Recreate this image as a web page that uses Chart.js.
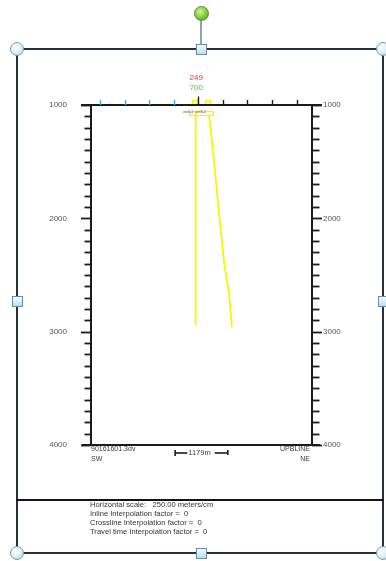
<!DOCTYPE html>
<html>
<head>
<meta charset="utf-8">
<script src="https://cdn.jsdelivr.net/npm/chart.js@4.4.1/dist/chart.umd.min.js"></script>
<style>
  html, body { margin: 0; padding: 0; background: #fff; }
  #wrap { position: relative; width: 386px; height: 561px; overflow: hidden; font-family: "Liberation Sans", Arial, sans-serif; }
  #section { position: absolute; left: 0; top: 0; }
  .frame { position: absolute; left: 16px; top: 48px; width: 368px; height: 506px; border: 2px solid #26313c; box-sizing: border-box; }
  .rule { position: absolute; left: 16px; top: 499px; width: 368px; height: 2px; background: #141414; }
  .info { position: absolute; left: 90px; top: 500px; font-size: 7.6px; line-height: 9px; color: #333; white-space: pre; }
  .stem { position: absolute; left: 200px; top: 19px; width: 2px; height: 26px; background: #8ea3b8; }
  .knob { position: absolute; width: 12px; height: 12px; border-radius: 50%; border: 1px solid #8397ab;
          background: radial-gradient(circle at 38% 32%, #ffffff 0%, #dcedf4 55%, #a9c9da 100%); }
  .sq { position: absolute; width: 9px; height: 9px; border: 1px solid #6f8aa5;
        background: linear-gradient(#f6fcff, #b7ddef); }
  .rot { position: absolute; left: 194px; top: 6px; width: 13px; height: 13px; border-radius: 50%; border: 1px solid #5d8d3b;
         background: radial-gradient(circle at 40% 35%, #d2f59a 0%, #79c93a 55%, #4f9a1f 100%); }
</style>
</head>
<body>
<div id="wrap">
  <canvas id="section" width="386" height="561"></canvas>
  <div class="frame"></div>
  <div class="rule"></div>
  <div class="info" id="info"></div>
  <div class="stem"></div>
  <div class="rot"></div>
  <div class="knob" style="left:10px;top:42px"></div>
  <div class="knob" style="left:376px;top:42px"></div>
  <div class="knob" style="left:10px;top:546px"></div>
  <div class="knob" style="left:376px;top:546px"></div>
  <div class="sq" style="left:196px;top:44px"></div>
  <div class="sq" style="left:196px;top:548px"></div>
  <div class="sq" style="left:12px;top:296px"></div>
  <div class="sq" style="left:378px;top:296px"></div>
</div>
<script>
// Depth axis (m), shared by both vertical axes
const depthRange = [1000, 4000];
const depthLabelStep = 1000;
const depthMinorStep = 100;

// Horizontal offset along the section line (m) of the top tick marks
const traceTicks = [-2200, -1650, -1100, -550, 0, 550, 1100, 1650, 2200];
const sectionRange = [-2400, 2545];

// Well 1: vertical hole
const wellAOffset = [-58, -58];
const wellADepth = [1060, 2945];

// Well 2: deviated hole
const wellBOffset = [239, 351, 463, 582, 687, 754];
const wellBDepth = [1088, 1486, 1955, 2400, 2662, 2960];

// Well heads (square markers above the section)
const wellheadOffset = [-74, 217];
const wellheadDepth = [980, 980];

// Annotation texts
const lineLabels = ['249', '700'];
const wellTags = 'well-1  well-2';
const leftFooter = ['90161601.3dv', 'SW'];
const rightFooter = ['UPBLINE', 'NE'];
const scaleBarMeters = 1179;
const infoLines = [
  'Horizontal scale:   250.00 meters/cm',
  'Inline Interpolation factor =  0',
  'Crossline Interpolation factor =  0',
  'Travel time Interpolation factor =  0'
];

document.getElementById('info').textContent = infoLines.join('\n');

const ink = '#1b1b1b';
const wellYellow = '#f6f600';
const FONT = '"Liberation Sans", Arial, sans-serif';

function pts(xs, ys) { return xs.map((v, i) => ({ x: v, y: ys[i] })); }

const sectionOverlay = {
  id: 'sectionOverlay',
  afterDraw(chart) {
    const { ctx, chartArea: a, scales: { x, y } } = chart;
    const seg = (x1, y1, x2, y2) => { ctx.beginPath(); ctx.moveTo(x1, y1); ctx.lineTo(x2, y2); ctx.stroke(); };
    ctx.save();

    // top and bottom rules of the section box
    ctx.strokeStyle = ink; ctx.lineWidth = 2;
    seg(a.left - 10, a.top, a.right + 10, a.top);
    seg(a.left - 9, a.bottom, a.right + 8, a.bottom);

    // depth tick marks on both sides
    ctx.lineWidth = 1.8;
    for (let d = depthRange[0]; d <= depthRange[1]; d += depthMinorStep) {
      const py = Math.round(y.getPixelForValue(d)) + 0.5;
      const major = d % depthLabelStep === 0;
      seg(a.left - (major ? 10 : 6.5), py, a.left, py);
      seg(a.right, py, a.right + (major ? 10 : 7.5), py);
    }

    // trace ticks along the top
    ctx.lineWidth = 1.4;
    for (const t of traceTicks) {
      const px = Math.round(x.getPixelForValue(t)) + 0.5;
      ctx.strokeStyle = t < 0 ? '#38b0f0' : ink;
      seg(px, a.top - (t === 0 ? 8.5 : 5), px, a.top);
    }

    // line numbers above the section
    const cx = x.getPixelForValue(0) - 2;
    ctx.font = '8px ' + FONT;
    ctx.textAlign = 'center'; ctx.textBaseline = 'middle';
    ctx.fillStyle = '#ff2b2b'; ctx.fillText(lineLabels[0], cx, a.top - 27);
    ctx.fillStyle = '#2ed82e'; ctx.fillText(lineLabels[1], cx, a.top - 17.5);

    // well tag box below the top rule
    const h0 = x.getPixelForValue(wellheadOffset[0]);
    const h1 = x.getPixelForValue(wellheadOffset[1]);
    ctx.strokeStyle = wellYellow; ctx.lineWidth = 1.3;
    ctx.strokeRect(Math.round(h0 - 6) + 0.5, a.top + 6.5, Math.round(h1 - h0 + 11), 4);
    ctx.font = '4px ' + FONT;
    ctx.fillStyle = '#5e5670';
    ctx.fillText(wellTags, (h0 + h1) / 2 - 7, a.top + 6.5);

    // footer captions
    ctx.font = '7px ' + FONT;
    ctx.fillStyle = '#3a3a3a';
    ctx.textAlign = 'left';
    ctx.fillText(leftFooter[0], a.left, a.bottom + 4.5);
    ctx.fillText(leftFooter[1], a.left, a.bottom + 14);
    ctx.textAlign = 'right';
    ctx.fillText(rightFooter[0], a.right - 2, a.bottom + 4.5);
    ctx.fillText(rightFooter[1], a.right - 2, a.bottom + 14);

    // horizontal scale bar
    const mid = x.getValueForPixel((a.left + a.right) / 2);
    const bx0 = x.getPixelForValue(mid - scaleBarMeters / 2);
    const bx1 = x.getPixelForValue(mid + scaleBarMeters / 2);
    const by = a.bottom + 8;
    ctx.font = '7.5px ' + FONT;
    const label = scaleBarMeters + 'm';
    const tw = ctx.measureText(label).width;
    const tc = (bx0 + bx1) / 2 - 2;
    ctx.strokeStyle = ink; ctx.lineWidth = 1.6;
    seg(bx0, by, tc - tw / 2 - 1, by);
    seg(tc + tw / 2 + 4, by, bx1, by);
    seg(bx0, by - 3, bx0, by + 3);
    seg(bx1, by - 3, bx1, by + 2);
    ctx.textAlign = 'center';
    ctx.fillStyle = '#3a3a3a';
    ctx.fillText(label, tc, by - 0.5);

    ctx.restore();
  }
};

const depthAxis = (position, width, pad) => ({
  type: 'linear',
  position,
  reverse: true,
  min: depthRange[0],
  max: depthRange[1],
  afterFit(s) { s.width = width; },
  border: { display: true, color: ink, width: 2 },
  grid: { display: false, drawTicks: false },
  ticks: {
    stepSize: depthLabelStep, padding: pad, color: '#52555f',
    font: { family: FONT, size: 8 },
    callback: (v) => String(v)
  }
});

new Chart(document.getElementById('section'), {
  type: 'scatter',
  data: {
    datasets: [
      { label: 'Well 1', data: pts(wellAOffset, wellADepth), showLine: true,
        borderColor: wellYellow, borderWidth: 1.8, pointRadius: 0 },
      { label: 'Well 2', data: pts(wellBOffset, wellBDepth), showLine: true,
        borderColor: wellYellow, borderWidth: 1.8, pointRadius: 0 },
      { label: 'Well heads', data: pts(wellheadOffset, wellheadDepth), showLine: false, clip: false,
        pointStyle: 'rect', pointRadius: 3.2, borderWidth: 1.6,
        borderColor: wellYellow, backgroundColor: '#ffffff' }
    ]
  },
  options: {
    responsive: false,
    animation: false,
    devicePixelRatio: 1,
    layout: { padding: { top: 105, bottom: 116, left: 0, right: 0 } },
    plugins: { legend: { display: false }, tooltip: { enabled: false } },
    scales: {
      x: { type: 'linear', position: 'top', display: false, min: sectionRange[0], max: sectionRange[1] },
      y: depthAxis('left', 91, 24),
      y2: depthAxis('right', 74, 11)
    }
  },
  plugins: [sectionOverlay]
});
</script>
</body>
</html>
